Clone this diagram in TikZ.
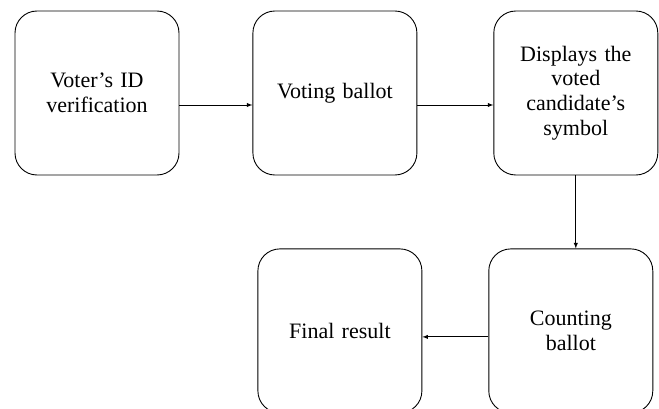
\documentclass[tikz,border=0pt]{standalone}
\usepackage{fontspec}
\setmainfont{Liberation Serif}
\usetikzlibrary{positioning}
\tikzset{stage/.style={draw, rounded corners=22pt, line width=0.9pt,
    minimum width=164pt, minimum height=164pt, align=center,
    text width=150pt, font=\fontsize{22}{24.7}\selectfont}}

\begin{document}
\begin{tikzpicture}[x=1pt,y=1pt,>=latex,line width=0.9pt]
                   \useasboundingbox (0,0) rectangle (659,-409);
                   \node[stage] (verify) at (97,-93) {Voter's ID\\verification};
                   \node[stage] (ballot) [right=73pt of verify] {Voting ballot};
                   \node[stage] (display) [right=76pt of ballot] {Displays the\\voted\\candidate's\\symbol};
                   \node[stage] (count) [below=73pt of display, xshift=-5pt] {Counting\\ballot};
                   \node[stage] (result) [left=66pt of count] {Final result};
                    \draw[->] ([yshift=-12pt]verify.east) -- ([yshift=-12pt]ballot.west);
                    \draw[->] ([yshift=-12pt]ballot.east) -- ([yshift=-12pt]display.west);
                    \draw[->] (display.south) -- (display.south |- count.north);
                    \draw[->] ([yshift=-6pt]count.west) -- ([yshift=-6pt]result.east);
                \end{tikzpicture}
\end{document}
